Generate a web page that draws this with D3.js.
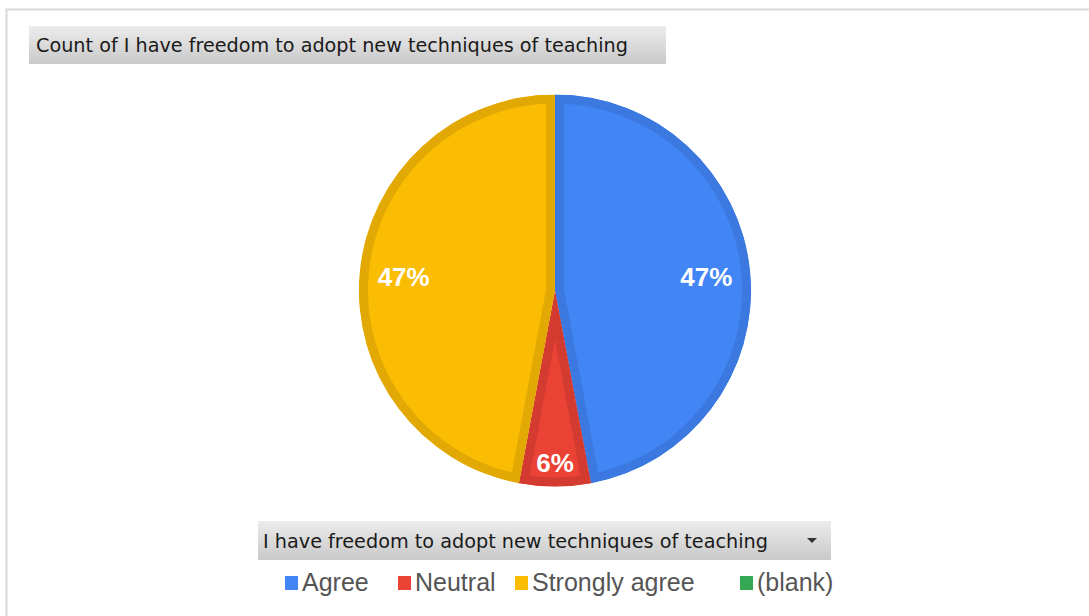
<!DOCTYPE html>
<html>
<head>
<meta charset="utf-8">
<script src="https://cdn.jsdelivr.net/npm/d3@7"></script>
<style>
  body { margin: 0; background: #fff; }
  svg { display: block; }
</style>
</head>
<body>
<div id="chart"></div>
<script>
// data
const categories = ["Agree", "Neutral", "Strongly agree"];
const counts = [8, 1, 8];
const legendLabels = ["Agree", "Neutral", "Strongly agree", "(blank)"];
const fillColors = ["#4285F4", "#EA4335", "#FBBC04", "#34A853"];
const edgeColors = ["#3B79E0", "#D33B30", "#E2A803", "#2E9749"];
const chartTitle = "Count of I have freedom to adopt new techniques of teaching";
const fieldName = "I have freedom to adopt new techniques of teaching";

const width = 1089, height = 616;
const cx = 555, cy = 290.5, R = 196;

const svg = d3.select("#chart").append("svg")
    .attr("width", width).attr("height", height);

const defs = svg.append("defs");
const grad = defs.append("linearGradient").attr("id", "btn")
    .attr("x1", 0).attr("y1", 0).attr("x2", 0).attr("y2", 1);
grad.append("stop").attr("offset", "0%").attr("stop-color", "#ececec");
grad.append("stop").attr("offset", "100%").attr("stop-color", "#c9c9c9");

// outer frame
svg.append("rect")
    .attr("x", 6.5).attr("y", 9.5)
    .attr("width", width + 10).attr("height", height + 10)
    .attr("fill", "none").attr("stroke", "#d9d9d9").attr("stroke-width", 2);

// title button
svg.append("rect")
    .attr("x", 29).attr("y", 26).attr("width", 637).attr("height", 38)
    .attr("fill", "url(#btn)");
svg.append("text")
    .attr("x", 36).attr("y", 52)
    .attr("textLength", 592).attr("lengthAdjust", "spacingAndGlyphs")
    .style("font", "19px 'DejaVu Sans Condensed', 'DejaVu Sans', sans-serif")
    .attr("fill", "#1a1a1a")
    .text(chartTitle);

// pie
const pie = d3.pie().sort(null).value(d => d)(counts);
const arc = d3.arc().innerRadius(0).outerRadius(R);

// clip each slice to itself so the darker edge sits inside it
pie.forEach((d, i) => {
  defs.append("clipPath").attr("id", "clip" + i)
    .append("path").attr("d", arc(d));
});

const g = svg.append("g").attr("transform", `translate(${cx},${cy})`);

g.selectAll("g.slice")
  .data(pie)
  .join("g")
    .attr("class", "slice")
    .attr("clip-path", (d, i) => `url(#clip${i})`)
  .append("path")
    .attr("d", arc)
    .attr("fill", (d, i) => fillColors[i])
    .attr("stroke", (d, i) => edgeColors[i])
    .attr("stroke-width", 18);

const total = d3.sum(counts);
const labelPos = d => {
  const r = (d.endAngle - d.startAngle) > 0.6 ? 152 : 172.5;
  return d3.arc().innerRadius(r).outerRadius(r).centroid(d);
};
g.append("g")
  .selectAll("text")
  .data(pie)
  .join("text")
    .attr("transform", d => `translate(${labelPos(d)})`)
    .attr("text-anchor", "middle")
    .attr("dy", "0.36em")
    .style("font", "bold 26px Arial, 'Liberation Sans', sans-serif")
    .attr("fill", "#fff")
    .text(d => Math.round(d.value / total * 100) + "%");

// field button
svg.append("rect")
    .attr("x", 258).attr("y", 521).attr("width", 573).attr("height", 39)
    .attr("fill", "url(#btn)");
svg.append("text")
    .attr("x", 263).attr("y", 548)
    .attr("textLength", 505).attr("lengthAdjust", "spacingAndGlyphs")
    .style("font", "19px 'DejaVu Sans Condensed', 'DejaVu Sans', sans-serif")
    .attr("fill", "#1a1a1a")
    .text(fieldName);
svg.append("path")
    .attr("d", "M807,538 L817,538 L812,543 Z")
    .attr("fill", "#333");

// legend
const legendX = d3.scaleOrdinal().domain(legendLabels).range([285, 398, 515, 740]);
const leg = svg.append("g").selectAll("g")
  .data(legendLabels)
  .join("g")
    .attr("transform", d => `translate(${legendX(d)},576)`);
leg.append("rect")
    .attr("width", 13).attr("height", 14)
    .attr("fill", (d, i) => fillColors[i]);
leg.append("text")
    .attr("x", 17).attr("y", 15)
    .style("font", "25px Arial, 'Liberation Sans', sans-serif")
    .attr("fill", "#555")
    .text(d => d);
</script>
</body>
</html>
